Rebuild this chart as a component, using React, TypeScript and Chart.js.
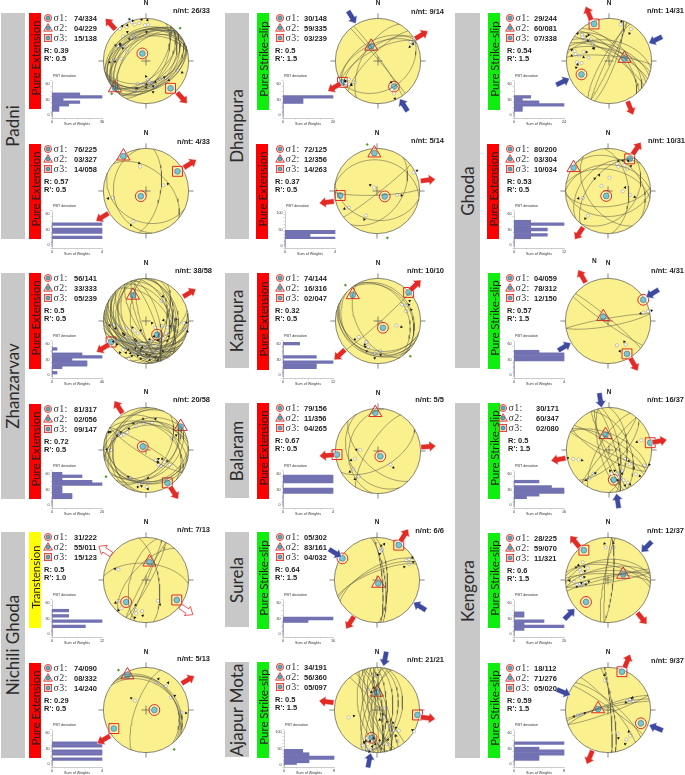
import React, { useEffect, useRef } from "react";
import { Chart, registerables } from "chart.js";

Chart.register(...registerables);

type Row = number[];

// Net units: the primitive circle has radius 144.
const NET_R = 144;

// sigma axes, [plunge, trend]
const padni1Sigma = [[74, 334], [4, 229], [15, 138]];
const padni2Sigma = [[76, 225], [3, 327], [14, 58]];
const zhan1Sigma = [[56, 141], [33, 333], [5, 239]];
const zhan2Sigma = [[81, 317], [2, 56], [9, 147]];
const nich1Sigma = [[31, 222], [55, 11], [15, 123]];
const nich2Sigma = [[74, 90], [8, 332], [14, 240]];
const dhan1Sigma = [[30, 148], [59, 335], [3, 239]];
const dhan2Sigma = [[72, 125], [12, 356], [14, 263]];
const kanpSigma = [[74, 144], [16, 316], [2, 47]];
const balaSigma = [[79, 156], [11, 356], [4, 265]];
const sureSigma = [[5, 302], [83, 161], [4, 32]];
const ajapSigma = [[34, 191], [56, 360], [5, 97]];
const ghod1Sigma = [[29, 244], [60, 81], [7, 338]];
const ghod2Sigma = [[80, 200], [3, 304], [10, 34]];
const ghod3Sigma = [[4, 59], [78, 312], [12, 150]];
const keng1Sigma = [[30, 171], [60, 347], [2, 80]];
const keng2Sigma = [[28, 225], [59, 70], [11, 321]];
const keng3Sigma = [[18, 112], [71, 276], [5, 20]];

// fault planes, [dip direction, dip]
const padni1Planes: Row[] = [[330,25],[335,30],[322,32],[345,28],[318,35],[325,38],[340,40],[312,40],[318,45],[330,48],[308,50],[348,42],[315,55],[128,40],[135,36],[150,34],[160,40],[165,36],[155,44],[145,48],[130,50],[160,32],[165,48],[140,58],[125,62],[118,54]];
const padni2Planes: Row[] = [[40,48],[262,25],[205,28],[100,62]];
const zhan1Planes: Row[] = [[170,30],[180,35],[190,28],[200,40],[210,30],[220,36],[230,25],[240,42],[185,48],[195,22],[205,50],[215,45],[225,55],[235,32],[245,48],[175,42],[165,50],[250,38],[260,30],[210,20],[195,36],[225,28],[70,35],[80,45],[90,30],[100,50],[110,40],[120,55],[60,42],[50,50],[85,25],[95,38],[250,75],[255,80],[70,75],[240,70],[75,65],[265,60]];
const zhan2Planes: Row[] = [[330,30],[345,35],[0,32],[15,38],[30,40],[350,42],[275,22],[285,25],[295,18],[135,40],[145,45],[150,35],[125,50],[175,25],[185,22],[195,28],[205,24],[45,30],[32,82],[212,80]];
const nich1Planes: Row[] = [[5,58],[80,66],[298,86],[118,82],[112,88],[285,60],[312,62]];
const nich2Planes: Row[] = [[35,36],[45,34],[52,32],[40,30],[290,70]];
const dhan1Planes: Row[] = [[330,50],[335,56],[325,62],[332,68],[300,60],[150,30],[55,85],[50,88],[315,75]];
const dhan2Planes: Row[] = [[8,28],[178,82],[142,86],[128,42],[190,32]];
const kanpPlanes: Row[] = [[55,20],[50,24],[62,30],[210,25],[205,20],[195,26],[222,23],[200,32],[138,86],[240,50]];
const balaPlanes: Row[] = [[302,72],[225,58],[150,58],[278,32],[240,30]];
const surePlanes: Row[] = [[335,70],[338,74],[330,66],[85,80],[82,75],[88,70]];
const ajapPlanes: Row[] = [[85,80],[90,72],[268,80],[275,85],[262,74],[80,85],[258,65],[95,60],[100,50],[255,55],[70,78],[250,82],[72,70],[245,75],[265,88],[285,78],[60,82],[290,70],[280,60],[50,85],[105,42]];
const ghod1Planes: Row[] = [[25,72],[30,65],[20,60],[35,78],[15,68],[40,55],[5,80],[115,85],[110,78],[295,85],[300,78],[10,50],[45,70],[50,62]];
const ghod2Planes: Row[] = [[0,38],[10,48],[175,60],[180,40],[235,50],[85,50],[310,55],[130,35],[40,24],[320,40]];
const ghod3Planes: Row[] = [[40,85],[215,85],[350,85],[170,80]];
const keng1Planes: Row[] = [[75,78],[80,70],[250,80],[255,72],[245,85],[30,70],[35,80],[25,60],[205,85],[210,75],[130,80],[310,85],[135,65],[300,70],[65,50],[90,55]];
const keng2Planes: Row[] = [[355,50],[5,56],[10,62],[350,66],[358,72],[350,82],[345,86],[170,85],[2,78],[275,85],[280,82],[95,80]];
const keng3Planes: Row[] = [[345,82],[340,80],[348,85],[160,84],[40,75],[50,80],[35,85],[85,85],[80,80]];

// slip marks on the net: [white x, white y, black x, black y]
const padni1Slips: Row[] = [[-48,131,-56,141],[-38,123,-45,136],[-23,128,-15,140],[-3,121,5,138],[7,123,2,98],[-66,115,-63,121],[-88,108,-80,118],[-43,88,-63,98],[-40,78,-56,75],[-78,83,-88,58],[-93,50,-103,53],[-73,48,-86,53],[-63,31,-78,43],[-83,8,-105,-2],[-108,3,-123,-4],[107,-32,122,-39],[67,-57,77,-65],[47,-62,62,-55],[7,-64,0,-52],[20,-75,24,-85],[12,-72,2,-79],[-8,-79,0,-89],[-28,-77,-33,-92],[24,-89,24,-105],[-38,-102,-30,-92],[32,-87,32,-72]];
const padni2Slips: Row[] = [[-20,82,-23,94],[59,19,74,24],[-113,-23,-128,-25],[-43,-103,-51,-115]];
const zhan1Slips: Row[] = [[-108,-12,-123,-15],[-88,-22,-103,-25],[-66,-25,-78,-42],[-38,-32,-46,-22],[-83,-62,-98,-79],[-73,-87,-68,-107],[-53,-72,-38,-62],[-43,-75,-36,-92],[-30,-79,-33,-67],[-18,-77,-13,-89],[-8,-85,-18,-97],[7,-79,12,-62],[32,-82,40,-65],[42,-97,57,-102],[12,-102,12,-115],[27,-107,32,-122],[-38,-107,-53,-109],[-58,-127,-48,-118],[-23,-102,-28,-117],[-3,-92,2,-112],[-13,-112,-18,-127],[52,68,57,83],[32,-22,20,-7],[52,-17,59,3],[72,-22,82,-17],[67,-42,77,-52],[87,5,102,5],[127,-7,137,-5],[130,-29,140,-35],[57,-57,72,-67],[7,-127,12,-132],[-28,-42,-18,-32],[-63,-57,-73,-47],[-78,-97,-88,-107],[-98,-67,-110,-69],[17,-67,27,-52],[-48,-92,-60,-97],[32,-122,40,-132]];
const zhan2Slips: Row[] = [[-83,48,-98,48],[-63,60,-58,72],[-33,80,-43,90],[-8,90,-10,105],[20,92,32,105],[-93,55,-120,62],[-113,35,-126,60],[-118,0,-133,2],[32,-35,42,-30],[42,-50,40,-40],[52,-55,40,-42],[80,-50,72,-38],[87,40,102,50],[-53,-95,-60,-90],[-23,-113,-28,-125],[-13,-110,-15,-122],[7,-110,7,-95],[2,-125,6,-132],[-75,52,-85,60],[60,-40,55,-30]];
const nich1Slips: Row[] = [[-93,35,-105,38],[-93,-70,-103,-77],[-83,-95,-93,-102],[-35,-100,-35,-85],[-33,-113,-38,-127],[-13,-105,-11,-120],[40,-70,47,-83]];
const nich2Slips: Row[] = [[-38,32,-50,40],[34,93,42,105],[67,80,75,92],[84,42,97,48],[120,-8,135,-10]];
const dhan1Slips: Row[] = [[-98,-62,-90,-79],[-78,-72,-90,-82],[-96,-79,-110,-69],[-108,-75,-112,-66],[122,75,128,80],[117,58,107,48],[54,-110,57,-127],[47,-97,44,-72],[110,65,118,58]];
const dhan2Slips: Row[] = [[-10,12,-23,20],[123,62,135,69],[68,-13,83,-15],[-37,-83,-43,-96],[-95,-56,-110,-60]];
const kanpSlips: Row[] = [[82,55,107,68],[97,53,104,55],[95,33,112,38],[62,-15,79,-20],[-65,-54,-78,-62],[-40,-72,-43,-87],[-33,-87,-38,-102],[-11,-109,-11,-125],[7,-102,9,-115],[-38,-70,-45,-80]];
const balaSlips: Row[] = [[-60,4,-73,4],[-78,-26,-91,-31],[-83,-61,-95,-70],[-65,-86,-78,-95],[42,-46,52,-56]];
const sureSlips: Row[] = [[14,106,24,121],[17,101,14,116],[9,96,9,88],[99,66,92,44],[109,71,119,76],[109,54,122,61]];
const ajapSlips: Row[] = [[-51,-120,-43,-110],[-36,-130,-38,-105],[-26,-135,-16,-123],[-11,-127,-6,-115],[-16,-105,-11,-95],[9,-115,9,-103],[-31,-115,-24,-105],[34,-115,37,-100],[69,-105,64,-87],[56,-70,54,-43],[44,-55,34,-40],[74,-70,64,-60],[125,-72,120,-68],[-96,-25,-78,-20],[24,5,19,-15],[22,-25,9,-33],[-31,70,-19,60],[-16,55,-11,75],[-1,115,2,118],[-36,-95,-44,-109],[-21,-135,-26,-140]];
const ghod1Slips: Row[] = [[-91,88,-106,93],[-89,80,-76,83],[-83,71,-71,68],[-61,73,-69,88],[-56,58,-51,43],[-116,33,-126,38],[-113,23,-126,18],[-86,31,-76,30],[-101,18,-86,13],[-108,-4,-111,-22],[-93,-7,-106,-12],[-69,11,-53,43],[39,123,42,133],[74,108,69,93]];
const ghod2Slips: Row[] = [[35,82,50,102],[55,87,68,102],[65,75,77,84],[5,45,-30,54],[-22,17,-45,42],[50,-1,58,12],[75,-13,90,-20],[-85,-23,-100,-25],[-68,-83,-77,-93],[30,92,35,102]];
const ghod3Slips: Row[] = [[135,33,147,35],[120,28,110,25],[30,-82,40,-102],[60,-80,55,-70]];
const keng1Slips: Row[] = [[-121,-30,-139,-27],[-103,-32,-91,-35],[-66,-95,-78,-102],[-53,-80,-46,-78],[54,-30,67,-37],[69,-48,84,-60],[91,-82,104,-88],[119,-52,136,-50],[44,-70,34,-50],[9,-80,4,-70],[29,-80,19,-70],[39,-95,44,-80],[49,-102,54,-120],[64,-110,71,-116],[109,33,94,27],[34,-90,29,-102]];
const keng2Slips: Row[] = [[-85,60,-100,50],[-68,40,-80,45],[-95,35,-108,43],[-90,25,-78,30],[-115,-5,-130,-2],[-105,-15,-90,-10],[-90,-20,-75,-15],[-78,-10,-65,-5],[-92,7,-80,10],[-8,110,-12,123],[18,110,18,125],[-95,-13,-105,-23]];
const keng3Slips: Row[] = [[-10,100,-12,118],[75,35,80,40],[65,30,60,25],[85,30,83,42],[-102,-18,-115,-22],[-90,-15,-78,-10],[32,-80,35,-95],[62,-100,58,-115],[75,-87,70,-73]];

// stress arrows: [x, y, azimuth]
const padni1Red: Row[] = [[-120,125,318],[122,-125,138]];
const padni2Red: Row[] = [[149,92,58],[-148,-88,238]];
const zhan1Red: Row[] = [[147,95,59],[-146,-92,239]];
const zhan2Red: Row[] = [[-93,145,327],[95,-145,147]];
const nich1Hollow: Row[] = [[-138,100,303],[137,-103,123]];
const nich2Red: Row[] = [[142,102,60],[-143,-100,240]];
const dhan1Red: Row[] = [[147,88,59],[-148,-89,239]];
const dhan1Blue: Row[] = [[-88,148,148],[87,-149,328]];
const dhan2Red: Row[] = [[172,37,83],[-170,-38,263]];
const kanpRed: Row[] = [[127,121,47],[-130,-114,227]];
const balaRed: Row[] = [[170,15,85],[-173,-15,265]];
const sureRed: Row[] = [[92,151,32],[-91,-144,212]];
const sureBlue: Row[] = [[-141,91,122],[144,-89,302]];
const ajapRed: Row[] = [[172,-27,97],[-171,28,277]];
const ajapBlue: Row[] = [[27,173,191],[-26,-170,11]];
const ghod1Red: Row[] = [[-69,161,338],[72,-159,158]];
const ghod1Blue: Row[] = [[157,71,244],[-156,-70,64]];
const ghod2Red: Row[] = [[97,144,34],[-98,-143,214]];
const ghod3Red: Row[] = [[-88,151,330],[88,-147,150]];
const ghod3Blue: Row[] = [[150,93,239],[-147,-87,59]];
const keng1Red: Row[] = [[171,30,80],[-171,-32,260]];
const keng1Blue: Row[] = [[-29,168,171],[29,-172,351]];
const keng2Red: Row[] = [[-112,130,321],[115,-130,141]];
const keng2Blue: Row[] = [[130,112,225],[-130,-115,45]];
const keng3Red: Row[] = [[65,165,22],[-62,-160,202]];
const keng3Blue: Row[] = [[-150,60,112],[162,-60,292]];

// small green marks outside some nets
const padni1Green: Row[] = [[115,111],[-116,-110]];
const dhan2Green: Row[] = [[-33,157],[35,-158]];
const kanpGreen: Row[] = [[-110,121],[109,-119]];
const nich2Green: Row[] = [[-93,135],[95,-133]];
const zhan2Green: Row[] = [[-135,-90]];

// histograms: weight per 5 degree PBT-deviation bin, starting at 0
const padni1Hist = [0,0,5,5,12,20,8,36,20];
const padni2Hist = [0,0,0,4,0,4,4,0,4];
const zhan1Hist = [0,4,0,8,28,28,16,40,24,0,4];
const zhan2Hist = [0,0,0,8,8,4,4,4,20,16,4,12,4];
const nich1Hist = [0,0,0,8,0,12,0,4,0,4];
const nich2Hist = [0,0,4,0,4,4,0,4,4];
const dhan1Hist = [0,0,0,0,0,8,8,20];
const dhan2Hist = [0,0,0,0,0,4,2,2,4,4];
const kanpHist = [0,0,0,8,8,12,0,8,0,0,0,0,4];
const balaHist = [0,0,0,0,0,4,4,0,0,4,4,4];
const sureHist = [0,0,0,0,0,8,16];
const ajapHist = [0,2,4,4,8,8,4,4,3,3];
const ghod1Hist = [0,0,4,4,24,12,4,8];
const ghod2Hist = [0,0,0,4,8,4,8,4,12,4];
const ghod3Hist = [0,0,0,0,0,0,4,4,4,2];
const keng1Hist = [0,0,0,4,8,16,16,12,0,8];
const keng2Hist = [0,0,4,20,4,12,0,4,4];
const keng3Hist = [0,0,4,4,8,8,4,0,8];

const PE = "Pure Extension";
const PS = "Pure Strike-slip";
const TT = "Transtension";

// labels
const locations = [
  { name: "Padni", x: 1, y: 13, w: 24, h: 226 },
  { name: "Zhanzarvav", x: 1, y: 273, w: 24, h: 226 },
  { name: "Nichili Ghoda", x: 1, y: 532, w: 24, h: 226 },
  { name: "Dhanpura", x: 225, y: 13, w: 24, h: 226 },
  { name: "Kanpura", x: 225, y: 273, w: 24, h: 95 },
  { name: "Balaram", x: 225, y: 403, w: 24, h: 95 },
  { name: "Surela", x: 225, y: 532, w: 24, h: 95 },
  { name: "Ajapur Mota", x: 225, y: 662, w: 24, h: 95 },
  { name: "Ghoda", x: 455, y: 13, w: 25, h: 355 },
  { name: "Kengora", x: 455, y: 403, w: 25, h: 355, shift: 10 },
];

type Panel = {
  cx: number; cy: number; boxX: number; boxY: number; boxH: number; regime: string;
  sigma: number[][]; r: string; rp: string; nnt: string; nx: number; ny: number;
  planes: Row[]; slips: Row[]; red?: Row[]; blue?: Row[]; hollow?: Row[]; green?: Row[];
  hist: number[]; hx: number; hy: number; xMax: number; yMax: number; tx: number; vx: number; rx: number;
};

const c1 = { tx: 48, vx: 74, rx: 44 };
const c2 = { tx: 280, vx: 304, rx: 275 };
const c3 = { tx: 510, vx: 534, rx: 507 };

const panels: Panel[] = [
  { ...c1, cx: 146, cy: 61, boxX: 29, boxY: 13, boxH: 96, regime: PE, sigma: padni1Sigma, r: "0.39", rp: "0.5", nnt: "26/33", nx: 210, ny: 10, planes: padni1Planes, slips: padni1Slips, red: padni1Red, green: padni1Green, hist: padni1Hist, hx: 52, hy: 81, xMax: 36, yMax: 60 },
  { ...c1, cx: 146, cy: 191, boxX: 29, boxY: 144, boxH: 95, regime: PE, sigma: padni2Sigma, r: "0.57", rp: "0.5", nnt: "4/33", nx: 210, ny: 141, planes: padni2Planes, slips: padni2Slips, red: padni2Red, hist: padni2Hist, hx: 52, hy: 211, xMax: 4, yMax: 60 },
  { ...c1, cx: 146, cy: 321, boxX: 29, boxY: 273, boxH: 96, regime: PE, sigma: zhan1Sigma, r: "0.5", rp: "0.5", nnt: "38/58", nx: 212, ny: 270, planes: zhan1Planes, slips: zhan1Slips, red: zhan1Red, hist: zhan1Hist, hx: 52, hy: 341, xMax: 40, yMax: 60 },
  { ...c1, cx: 146, cy: 450, boxX: 29, boxY: 404, boxH: 95, regime: PE, sigma: zhan2Sigma, r: "0.72", rp: "0.5", nnt: "20/58", nx: 210, ny: 399, planes: zhan2Planes, slips: zhan2Slips, red: zhan2Red, green: zhan2Green, hist: zhan2Hist, hx: 52, hy: 471, xMax: 20, yMax: 60 },
  { ...c1, cx: 146, cy: 580, boxX: 29, boxY: 532, boxH: 96, regime: TT, sigma: nich1Sigma, r: "0.5", rp: "1.0", nnt: "7/13", nx: 210, ny: 529, planes: nich1Planes, slips: nich1Slips, hollow: nich1Hollow, hist: nich1Hist, hx: 52, hy: 600, xMax: 12, yMax: 60 },
  { ...c1, cx: 146, cy: 710, boxX: 29, boxY: 663, boxH: 95, regime: PE, sigma: nich2Sigma, r: "0.29", rp: "0.5", nnt: "5/13", nx: 210, ny: 658, planes: nich2Planes, slips: nich2Slips, red: nich2Red, green: nich2Green, hist: nich2Hist, hx: 52, hy: 730, xMax: 4, yMax: 60 },
  { ...c2, cx: 378, cy: 61, boxX: 257, boxY: 13, boxH: 97, regime: PS, sigma: dhan1Sigma, r: "0.5", rp: "1.5", nnt: "9/14", nx: 444, ny: 11, planes: dhan1Planes, slips: dhan1Slips, red: dhan1Red, blue: dhan1Blue, hist: dhan1Hist, hx: 283, hy: 81, xMax: 20, yMax: 60 },
  { ...c2, cx: 377, cy: 191, boxX: 256, boxY: 144, boxH: 95, regime: PE, sigma: dhan2Sigma, r: "0.37", rp: "0.5", nnt: "5/14", nx: 444, ny: 140, planes: dhan2Planes, slips: dhan2Slips, red: dhan2Red, green: dhan2Green, hist: dhan2Hist, hx: 285, hy: 211, xMax: 4, yMax: 100 },
  { ...c2, cx: 378, cy: 321, boxX: 257, boxY: 273, boxH: 97, regime: PE, sigma: kanpSigma, r: "0.32", rp: "0.5", nnt: "10/10", nx: 444, ny: 270, planes: kanpPlanes, slips: kanpSlips, red: kanpRed, green: kanpGreen, hist: kanpHist, hx: 283, hy: 341, xMax: 12, yMax: 60 },
  { ...c2, cx: 378, cy: 451, boxX: 257, boxY: 403, boxH: 96, regime: PE, sigma: balaSigma, r: "0.67", rp: "0.5", nnt: "5/5", nx: 444, ny: 399, planes: balaPlanes, slips: balaSlips, red: balaRed, hist: balaHist, hx: 283, hy: 471, xMax: 4, yMax: 60 },
  { ...c2, cx: 377, cy: 580, boxX: 257, boxY: 532, boxH: 97, regime: PS, sigma: sureSigma, r: "0.64", rp: "1.5", nnt: "6/6", nx: 444, ny: 530, planes: surePlanes, slips: sureSlips, red: sureRed, blue: sureBlue, hist: sureHist, hx: 283, hy: 600, xMax: 16, yMax: 60 },
  { ...c2, cx: 377, cy: 710, boxX: 257, boxY: 662, boxH: 96, regime: PS, sigma: ajapSigma, r: "0.5", rp: "1.5", nnt: "21/21", nx: 444, ny: 659, planes: ajapPlanes, slips: ajapSlips, red: ajapRed, blue: ajapBlue, hist: ajapHist, hx: 284, hy: 730, xMax: 8, yMax: 100 },
  { ...c3, cx: 609, cy: 61, boxX: 488, boxY: 13, boxH: 97, regime: PS, sigma: ghod1Sigma, r: "0.54", rp: "1.5", nnt: "14/31", nx: 684, ny: 10, planes: ghod1Planes, slips: ghod1Slips, red: ghod1Red, blue: ghod1Blue, hist: ghod1Hist, hx: 514, hy: 81, xMax: 24, yMax: 60 },
  { ...c3, cx: 608, cy: 191, boxX: 487, boxY: 144, boxH: 95, regime: PE, sigma: ghod2Sigma, r: "0.53", rp: "0.5", nnt: "10/31", nx: 685, ny: 140, planes: ghod2Planes, slips: ghod2Slips, red: ghod2Red, hist: ghod2Hist, hx: 514, hy: 211, xMax: 12, yMax: 60 },
  { ...c3, cx: 608, cy: 321, boxX: 488, boxY: 273, boxH: 96, regime: PS, sigma: ghod3Sigma, r: "0.57", rp: "1.5", nnt: "4/31", nx: 684, ny: 270, planes: ghod3Planes, slips: ghod3Slips, red: ghod3Red, blue: ghod3Blue, hist: ghod3Hist, hx: 514, hy: 341, xMax: 4, yMax: 60 },
  { ...c3, tx: 503, vx: 536, rx: 508, cx: 609, cy: 450, boxX: 488, boxY: 403, boxH: 96, regime: PS, sigma: keng1Sigma, r: "0.5", rp: "1.5", nnt: "16/37", nx: 684, ny: 399, planes: keng1Planes, slips: keng1Slips, red: keng1Red, blue: keng1Blue, hist: keng1Hist, hx: 514, hy: 471, xMax: 16, yMax: 60 },
  { ...c3, cx: 608, cy: 580, boxX: 488, boxY: 533, boxH: 95, regime: PS, sigma: keng2Sigma, r: "0.6", rp: "1.5", nnt: "12/37", nx: 684, ny: 530, planes: keng2Planes, slips: keng2Slips, red: keng2Red, blue: keng2Blue, hist: keng2Hist, hx: 514, hy: 600, xMax: 20, yMax: 60 },
  { ...c3, cx: 608, cy: 710, boxX: 488, boxY: 663, boxH: 95, regime: PS, sigma: keng3Sigma, r: "0.59", rp: "1.5", nnt: "9/37", nx: 684, ny: 660, planes: keng3Planes, slips: keng3Slips, red: keng3Red, blue: keng3Blue, hist: keng3Hist, hx: 514, hy: 730, xMax: 8, yMax: 60 },
];

const REGIME_BG: Record<string, string> = { [PE]: "#ff0000", [PS]: "#10ee10", [TT]: "#ffff00" };
const RED = "#e32a24";
const BLUE = "#3d4a9f";
const CYAN = "#46b5c8";
const HALF = 77;
const SCALE = NET_R / 48;
const rad = (d: number) => (d * Math.PI) / 180;

// lower-hemisphere equal-area projection
function project(plunge: number, trend: number) {
  const r = Math.SQRT2 * Math.sin(rad((90 - plunge) / 2)) * NET_R;
  return { x: r * Math.sin(rad(trend)), y: r * Math.cos(rad(trend)) };
}

function greatCircle(dipDir: number, dip: number) {
  const pts = [];
  const s = rad(dipDir - 90), d = rad(dipDir), dp = rad(dip);
  for (let a = 0; a <= 180; a += 6) {
    const ca = Math.cos(rad(a)), sa = Math.sin(rad(a));
    const e = ca * Math.sin(s) + sa * Math.sin(d) * Math.cos(dp);
    const n = ca * Math.cos(s) + sa * Math.cos(d) * Math.cos(dp);
    const z = sa * Math.sin(dp);
    const plunge = (Math.asin(Math.min(1, z)) * 180) / Math.PI;
    const trend = (Math.atan2(e, n) * 180) / Math.PI;
    pts.push(project(plunge, trend));
  }
  return pts;
}

function drawArrow(ctx: CanvasRenderingContext2D, x: number, y: number, az: number, fill: string, stroke: string) {
  ctx.save();
  ctx.translate(x, y);
  ctx.rotate(rad(az));
  ctx.beginPath();
  const L = 7.5, H = 1, W = 2.6, HW = 5.4;
  ctx.moveTo(0, -L);
  ctx.lineTo(HW, -H);
  ctx.lineTo(W, -H);
  ctx.lineTo(W, L);
  ctx.lineTo(-W, L);
  ctx.lineTo(-W, -H);
  ctx.lineTo(-HW, -H);
  ctx.closePath();
  ctx.fillStyle = fill;
  ctx.fill();
  ctx.strokeStyle = stroke;
  ctx.lineWidth = 0.7;
  ctx.stroke();
  ctx.restore();
}

function Net({ p }: { p: Panel }) {
  const ref = useRef<HTMLCanvasElement>(null);
  useEffect(() => {
    const canvas = ref.current!;
    const dot = (list: Row[], ix: number, iy: number) => list.map((r) => ({ x: r[ix], y: r[iy] }));
    const sig = p.sigma.map((s) => project(s[0], s[1]));
    const datasets: any[] = [
      ...p.planes.map((pl) => ({
        data: greatCircle(pl[0], pl[1]),
        showLine: true, pointRadius: 0, borderColor: "#515144", borderWidth: 0.5, tension: 0, clip: false,
      })),
      {
        data: dot(p.slips, 2, 3), pointStyle: "triangle", pointRadius: 1.7, pointBorderWidth: 0,
        pointBackgroundColor: "#111", pointBorderColor: "#111",
        pointRotation: (c: any) => {
          const r = p.slips[c.dataIndex];
          return r ? (Math.atan2(r[2] - r[0], r[3] - r[1]) * 180) / Math.PI : 0;
        },
        clip: false,
      },
      {
        data: dot(p.slips, 0, 1), pointStyle: "circle", pointRadius: 1.6, pointBorderWidth: 0.4,
        pointBackgroundColor: "#fff", pointBorderColor: "#777", clip: false,
      },
      ...(p.green ? [{ data: dot(p.green, 0, 1), pointStyle: "rectRot", pointRadius: 1.6, pointBackgroundColor: "#5f9e3a", pointBorderWidth: 0, clip: false }] : []),
      { data: [sig[0]], pointStyle: "circle", pointRadius: 5.4, pointBorderWidth: 1, pointBorderColor: RED, pointBackgroundColor: "rgba(255,255,255,0.25)", clip: false },
      { data: [sig[1]], pointStyle: "triangle", pointRadius: 7.6, pointBorderWidth: 1, pointBorderColor: RED, pointBackgroundColor: "rgba(255,255,255,0.25)", clip: false },
      { data: [sig[2]], pointStyle: "rect", pointRadius: 7, pointBorderWidth: 1, pointBorderColor: RED, pointBackgroundColor: "rgba(255,255,255,0.25)", clip: false },
      { data: sig, pointStyle: "circle", pointRadius: 2.9, pointBorderWidth: 0.6, pointBorderColor: "#234", pointBackgroundColor: CYAN, clip: false },
    ];
    const lim = HALF * SCALE;
    const chart = new Chart(canvas, {
      type: "scatter",
      data: { datasets },
      options: {
        animation: false, responsive: false, maintainAspectRatio: false, events: [],
        layout: { padding: 0 },
        plugins: { legend: { display: false }, tooltip: { enabled: false }, title: { display: false } },
        scales: {
          x: { type: "linear", min: -lim, max: lim, display: false },
          y: { type: "linear", min: -lim, max: lim, display: false },
        },
      },
      plugins: [
        {
          id: "netBase",
          beforeDatasetsDraw(ch: any) {
            const { ctx, scales } = ch;
            const x0 = scales.x.getPixelForValue(0), y0 = scales.y.getPixelForValue(0);
            const R = scales.x.getPixelForValue(NET_R) - x0;
            ctx.save();
            ctx.beginPath();
            ctx.arc(x0, y0, R, 0, Math.PI * 2);
            ctx.fillStyle = "#fbf08e";
            ctx.fill();
            ctx.strokeStyle = "#555";
            ctx.lineWidth = 0.7;
            ctx.stroke();
            ctx.beginPath();
            ctx.lineWidth = 0.7;
            ctx.moveTo(x0 - 4.5, y0); ctx.lineTo(x0 + 4.5, y0);
            ctx.moveTo(x0, y0 - 4.5); ctx.lineTo(x0, y0 + 4.5);
            ctx.moveTo(x0 - R - 5, y0); ctx.lineTo(x0 - R, y0);
            ctx.moveTo(x0 + R, y0); ctx.lineTo(x0 + R + 5, y0);
            ctx.moveTo(x0, y0 - R - 5); ctx.lineTo(x0, y0 - R);
            ctx.moveTo(x0, y0 + R); ctx.lineTo(x0, y0 + R + 5);
            ctx.stroke();
            ctx.restore();
          },
          afterDatasetsDraw(ch: any) {
            const { ctx, scales } = ch;
            const put = (list: Row[] | undefined, fill: string, stroke: string) =>
              (list || []).forEach((a) =>
                drawArrow(ctx, scales.x.getPixelForValue(a[0]), scales.y.getPixelForValue(a[1]), a[2], fill, stroke));
            put(p.red, RED, "rgba(255,255,255,0.6)");
            put(p.blue, BLUE, "rgba(255,255,255,0.6)");
            put(p.hollow, "#fff", RED);
          },
        },
      ],
    } as any);
    return () => chart.destroy();
  }, [p]);
  return (
    <div style={{ position: "absolute", left: p.cx - HALF, top: p.cy - HALF, width: HALF * 2, height: HALF * 2 }}>
      <canvas ref={ref} width={HALF * 2} height={HALF * 2} />
    </div>
  );
}

const AX_W = 50, AX_H = 37, PAD_L = 10, PAD_T = 4, PAD_R = 5, PAD_B = 8;

function Hist({ p }: { p: Panel }) {
  const ref = useRef<HTMLCanvasElement>(null);
  useEffect(() => {
    const tickFont = { size: 3.7, family: "'Liberation Sans'" };
    const chart = new Chart(ref.current!, {
      type: "bar",
      data: {
        datasets: [{
          data: p.hist.map((w, i) => ({ x: w, y: i * 5 })),
          backgroundColor: "#7272b2", borderWidth: 0,
          barPercentage: 1, categoryPercentage: 1, clip: false,
        }],
      },
      options: {
        indexAxis: "y", animation: false, responsive: false, maintainAspectRatio: false, events: [],
        layout: { padding: { top: PAD_T, right: PAD_R, left: 0, bottom: 0 } },
        plugins: { legend: { display: false }, tooltip: { enabled: false } },
        scales: {
          x: {
            type: "linear", min: 0, max: p.xMax, position: "bottom",
            afterFit: (a: any) => { a.height = PAD_B; },
            grid: { drawOnChartArea: false, tickLength: 1.5, color: "#999", lineWidth: 0.4 },
            border: { color: "#999", width: 0.5 },
            title: { display: true, text: "Sum of Weights", font: tickFont, color: "#333", padding: { top: 0, bottom: 0 } },
            ticks: {
              stepSize: p.xMax / 4, font: tickFont, color: "#333", padding: 0, maxRotation: 0, autoSkip: false,
              callback: (v: any) => (v === 0 || v === p.xMax ? String(v) : ""),
            },
          },
          y: {
            type: "linear", min: 0, max: p.yMax, position: "left",
            afterFit: (a: any) => { a.width = PAD_L; },
            grid: { drawOnChartArea: false, tickLength: 1.5, color: "#999", lineWidth: 0.4 },
            border: { color: "#999", width: 0.5 },
            ticks: {
              stepSize: 10, font: tickFont, color: "#333", padding: 1, autoSkip: false,
              callback: (v: any) => (v % (p.yMax / 2) === 0 ? String(v) : ""),
            },
          },
        },
      },
    } as any);
    return () => chart.destroy();
  }, [p]);
  const w = PAD_L + AX_W + PAD_R, h = PAD_T + AX_H + PAD_B;
  return (
    <div style={{ position: "absolute", left: p.hx - PAD_L, top: p.hy - PAD_T, width: w, height: h }}>
      <canvas ref={ref} width={w} height={h} />
    </div>
  );
}

function abs(left: number, top: number, extra: React.CSSProperties = {}): React.CSSProperties {
  return { position: "absolute", left, top, whiteSpace: "nowrap", ...extra };
}

function Icon({ kind, x, y }: { kind: number; x: number; y: number }) {
  return (
    <svg width={10} height={10} viewBox="-5 -5 10 10" style={abs(x - 5, y - 5)}>
      {kind === 0 && <circle r={3.6} fill="#f6c9c0" stroke={RED} strokeWidth={0.8} />}
      {kind === 1 && <path d="M0,-4.4 L4.4,3.2 L-4.4,3.2 Z" fill="#f6c9c0" stroke={RED} strokeWidth={0.8} />}
      {kind === 2 && <rect x={-3.6} y={-3.6} width={7.2} height={7.2} fill="#f6c9c0" stroke={RED} strokeWidth={0.8} />}
      <circle r={1.9} fill={CYAN} stroke="#234" strokeWidth={0.4} />
    </svg>
  );
}

const BOLD = { fontFamily: "'Liberation Sans'", fontWeight: 700, fontSize: 7.5, lineHeight: "9px", color: "#222" };

function Labels({ p }: { p: Panel }) {
  const rows = p.sigma.map((s, i) => ({
    y: p.boxY + 5 + i * 10,
    text: String(s[0]).padStart(2, "0") + "/" + String(s[1]).padStart(3, "0"),
  }));
  return (
    <>
      <div style={abs(p.boxX, p.boxY, { width: 12, height: p.boxH, background: REGIME_BG[p.regime] })} />
      <div style={abs(p.boxX + 6, p.boxY + p.boxH / 2 - 3, { transform: "translate(-50%,-50%) rotate(-90deg)", fontFamily: "Lato", fontSize: 11.4, lineHeight: "13px", color: "#2a1a1a" })}>{p.regime}</div>
      {rows.map((r, i) => (
        <React.Fragment key={i}>
          <Icon kind={i} x={p.tx} y={r.y} />
          <div style={abs(p.tx + 5.5, r.y - 6, { fontFamily: "'Liberation Serif'", fontSize: 10, lineHeight: "12px", color: "#333", letterSpacing: 0.3 })}>{"σ" + (i + 1) + ":"}</div>
          <div style={abs(p.vx, r.y - 4.5, BOLD)}>{r.text}</div>
        </React.Fragment>
      ))}
      <div style={abs(p.rx, p.boxY + 33, BOLD)}>{"R: " + p.r}</div>
      <div style={abs(p.rx, p.boxY + 40.5, BOLD)}>{"R': " + p.rp}</div>
      <div style={abs(p.nx - 60, p.ny - 4.5, { ...BOLD, width: 60, textAlign: "right" })}>{"n/nt: " + p.nnt}</div>
      <div style={abs(p.cx - 5, p.cy - 62, { ...BOLD, width: 10, textAlign: "center", fontSize: 6.5, lineHeight: "8px" })}>N</div>
      <div style={abs(p.hx + 1, p.hy - 7, { fontFamily: "'Liberation Sans'", fontSize: 3.7, lineHeight: "4px", color: "#333" })}>PBT deviation</div>
    </>
  );
}

export default function App() {
  return (
    <div style={{ position: "absolute", left: 0, top: 0, width: 685, height: 775, overflow: "hidden", background: "#fff" }}>
      {locations.map((l) => (
        <React.Fragment key={l.name}>
          <div style={abs(l.x, l.y, { width: l.w, height: l.h, background: "#c8c8c8" })} />
          <div style={abs(l.x + l.w / 2, l.y + l.h / 2 + (l.shift || 0), { transform: "translate(-50%,-50%) rotate(-90deg)", fontFamily: "Lato", fontSize: 17, lineHeight: "20px", color: "#2b2b2b" })}>{l.name}</div>
        </React.Fragment>
      ))}
      {panels.map((p, i) => <Hist key={i} p={p} />)}
      {panels.map((p, i) => <Net key={i} p={p} />)}
      {panels.map((p, i) => <Labels key={i} p={p} />)}
      <div style={abs(592, 257, { ...BOLD, fontSize: 6.5, lineHeight: "8px" })}>N</div>
    </div>
  );
}
